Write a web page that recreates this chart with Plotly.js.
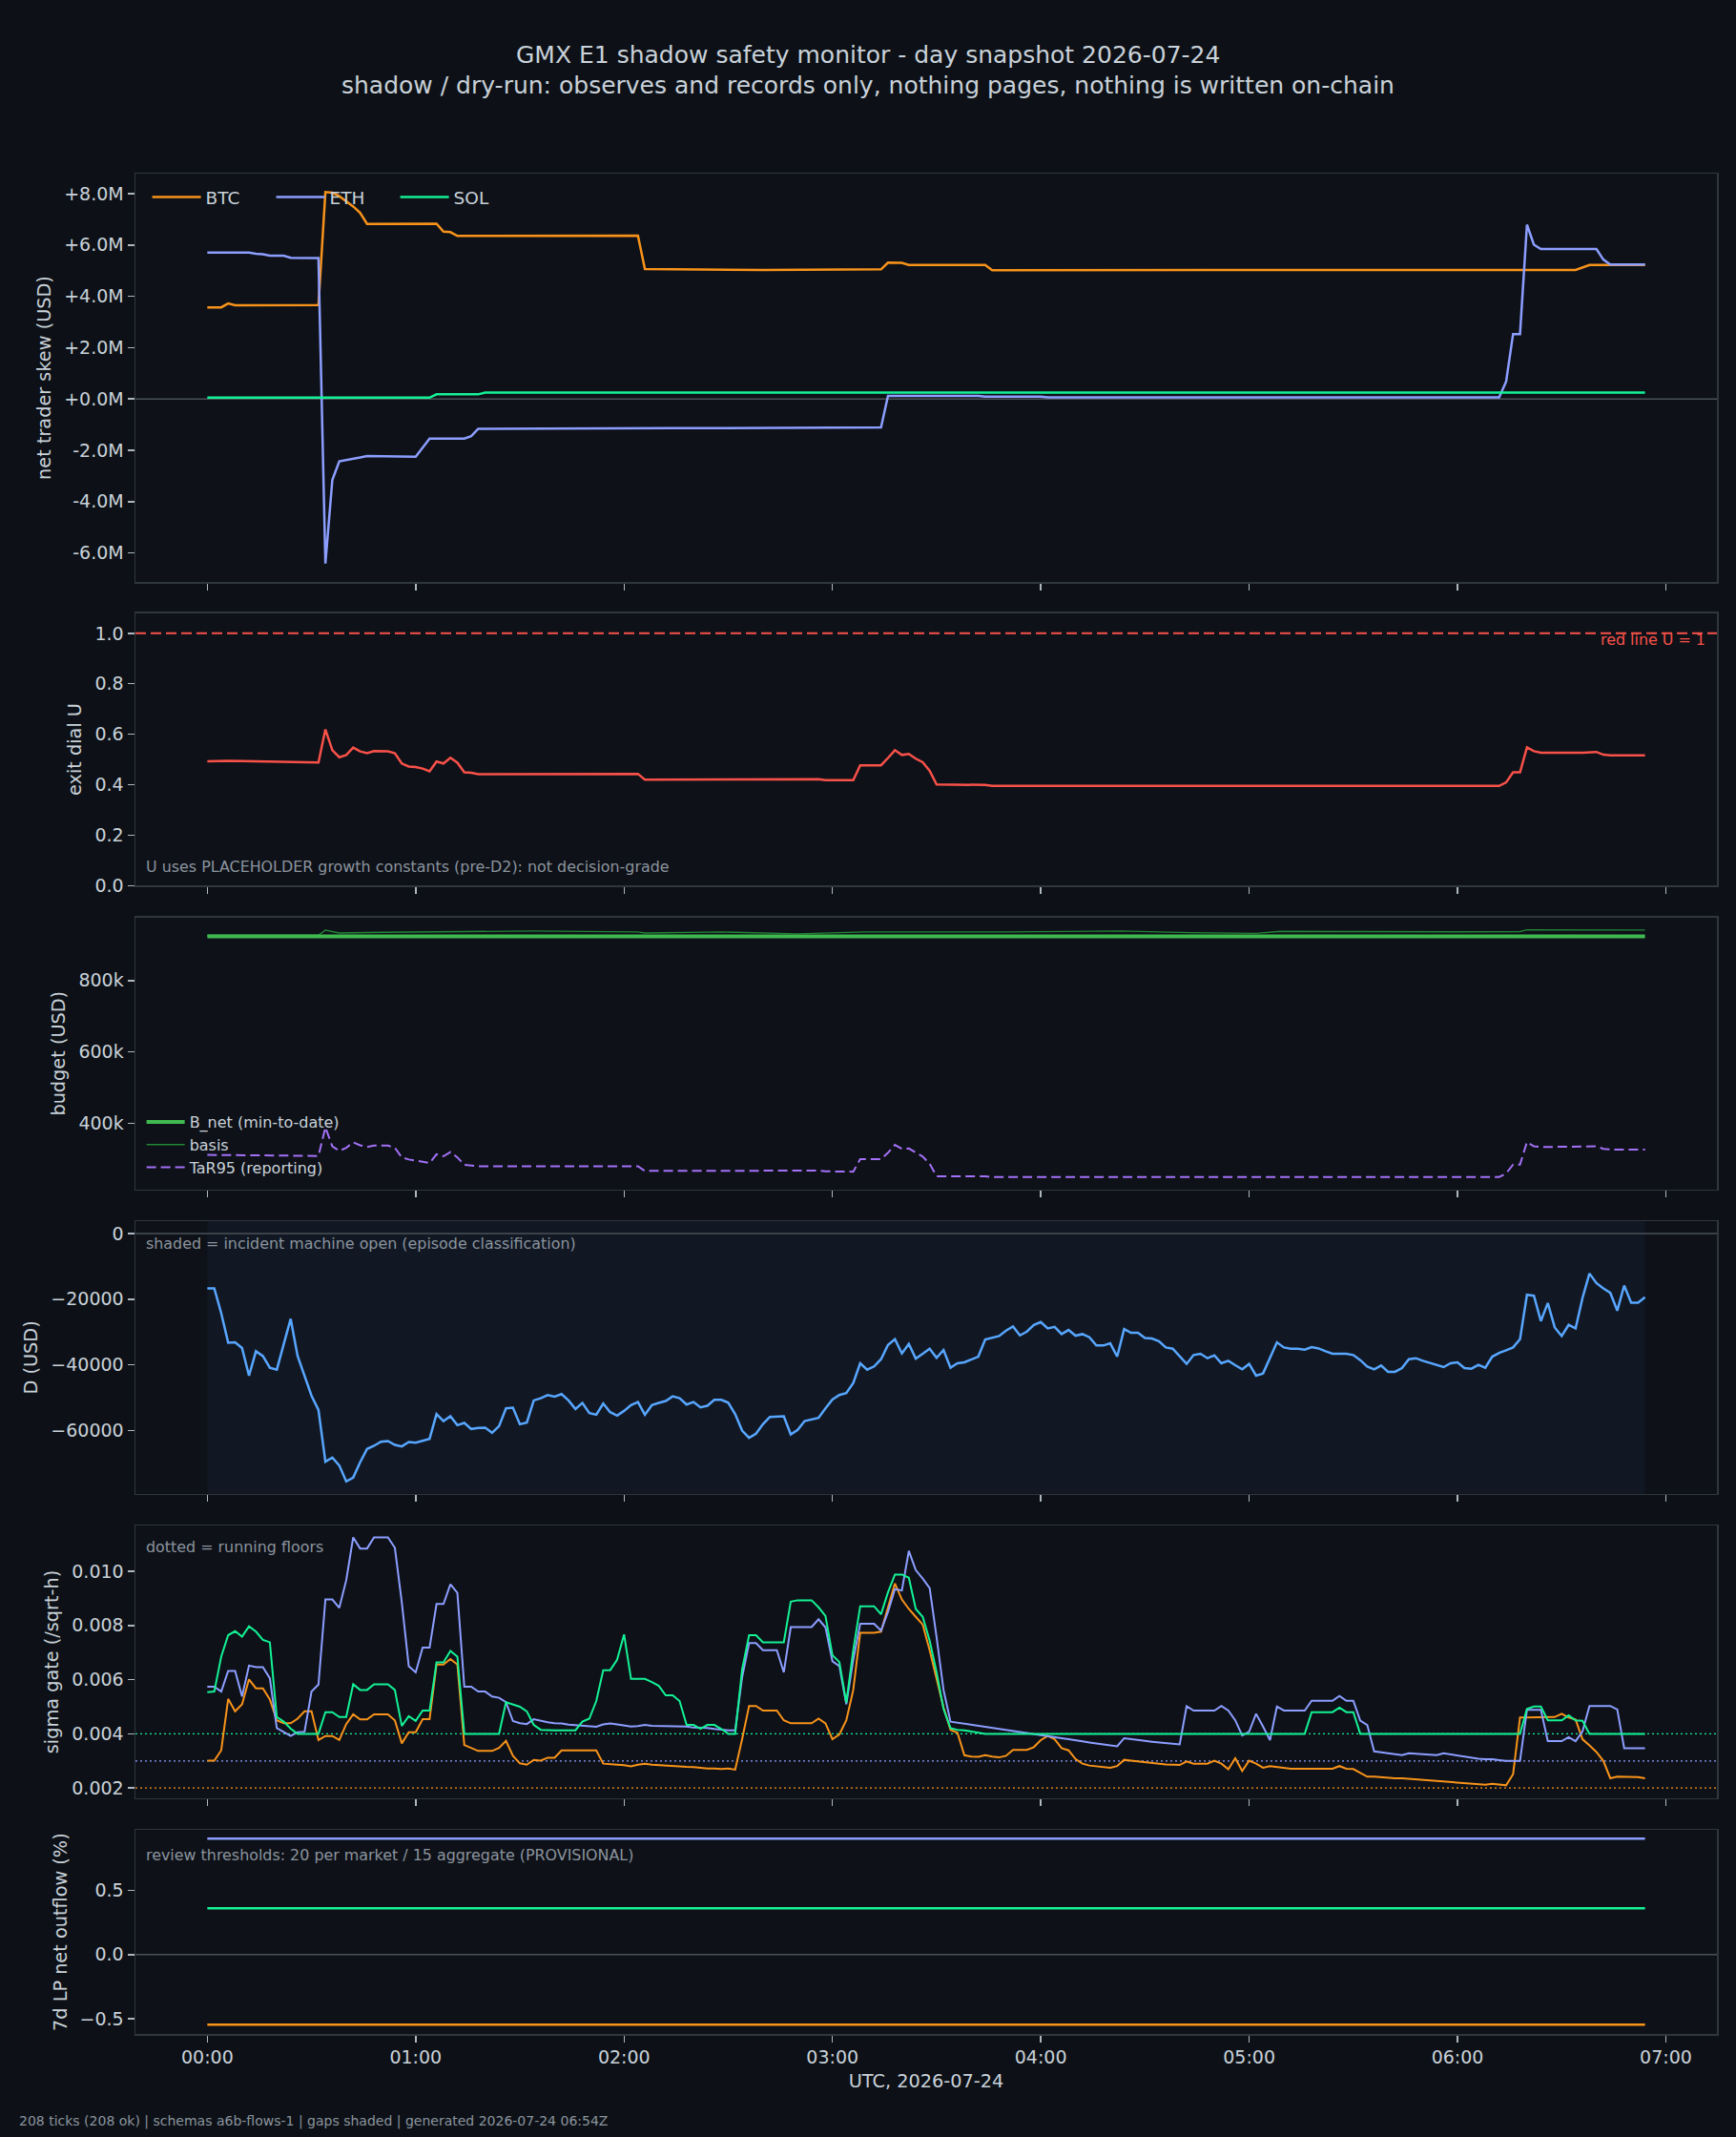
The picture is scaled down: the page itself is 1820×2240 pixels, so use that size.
<!DOCTYPE html>
<html><head><meta charset="utf-8">
<script src="https://cdn.plot.ly/plotly-3.0.1.min.js"></script>
<style>html,body{margin:0;padding:0;background:#0d1117;}#chart{width:1820px;height:2240px;}</style>
</head><body><div id="chart"></div>
<script>
// ---------- data ----------
// panel 1: net trader skew, USD millions, at breakpoints (minutes after 00:00 UTC)
const skewBtcMin = [0, 4, 6, 8, 32, 34, 36, 38, 40, 42, 44, 46, 66, 68, 70, 72, 124, 126, 160, 194, 196, 200, 202, 224, 226, 394, 398, 414];
const skewBtcM   = [3.57, 3.57, 3.72, 3.65, 3.66, 8.06, 8.04, 7.90, 7.70, 7.50, 7.25, 6.82, 6.83, 6.52, 6.50, 6.35, 6.36, 5.06, 5.03, 5.05, 5.31, 5.30, 5.22, 5.22, 5.02, 5.03, 5.22, 5.22];
const skewEthMin = [0, 12, 14, 16, 18, 22, 24, 32, 34, 36, 38, 40, 42, 44, 46, 60, 64, 74, 76, 78, 134, 178, 194, 196, 222, 224, 240, 242, 372, 374, 376, 378, 380, 382, 384, 400, 402, 404, 414];
const skewEthM   = [5.70, 5.70, 5.66, 5.64, 5.58, 5.58, 5.50, 5.49, -6.41, -3.15, -2.43, -2.38, -2.35, -2.28, -2.22, -2.25, -1.54, -1.54, -1.45, -1.16, -1.14, -1.11, -1.11, 0.12, 0.12, 0.09, 0.09, 0.06, 0.06, 0.68, 2.53, 2.53, 6.79, 6.01, 5.84, 5.84, 5.43, 5.24, 5.24];
const skewSolMin = [0, 64, 66, 78, 80, 414];
const skewSolM   = [0.05, 0.05, 0.18, 0.18, 0.25, 0.25];
const skewTickVals = [-6e6, -4e6, -2e6, 0, 2e6, 4e6, 6e6, 8e6];
const skewTickText = ['-6.0M', '-4.0M', '-2.0M', '+0.0M', '+2.0M', '+4.0M', '+6.0M', '+8.0M'];

// panel 2: exit dial U
const uMin = [0, 6, 32, 34, 36, 38, 40, 42, 44, 46, 48, 52, 54, 56, 58, 60, 62, 64, 66, 68, 70, 72, 74, 76, 78, 124, 126, 176, 178, 186, 188, 194, 196, 198, 200, 202, 204, 206, 208, 210, 224, 226, 372, 374, 376, 378, 380, 382, 384, 396, 400, 402, 404, 414];
const uVal = [0.493, 0.495, 0.488, 0.619, 0.537, 0.509, 0.518, 0.547, 0.532, 0.525, 0.533, 0.532, 0.525, 0.484, 0.472, 0.470, 0.464, 0.453, 0.492, 0.484, 0.507, 0.487, 0.449, 0.447, 0.442, 0.443, 0.420, 0.422, 0.418, 0.418, 0.477, 0.477, 0.506, 0.537, 0.518, 0.522, 0.503, 0.489, 0.455, 0.401, 0.399, 0.395, 0.395, 0.409, 0.449, 0.449, 0.548, 0.533, 0.527, 0.527, 0.530, 0.519, 0.516, 0.516];
const uRedLine = 1;

// panel 3: budget, USD thousands
const bnetMin = [0, 414];
const bnetK   = [924, 924];
const basisMin = [0, 32, 34, 38, 50, 94, 124, 126, 148, 170, 189, 230, 263, 283, 302, 309, 360, 378, 380, 397, 414];
const basisK   = [927, 927, 941, 933, 935, 938.7, 936, 933, 936, 930.7, 936, 936, 938.7, 934, 932, 937.8, 936.5, 937, 942, 941, 941.5];
const tarMin = [0, 32, 34, 36, 38, 40, 42, 44, 46, 48, 52, 54, 56, 58, 60, 64, 66, 68, 70, 72, 74, 78, 124, 126, 176, 178, 186, 188, 194, 196, 198, 200, 202, 204, 206, 208, 210, 224, 226, 372, 374, 376, 378, 380, 382, 384, 396, 400, 402, 404, 414];
const tarK   = [312, 309, 389, 336, 323, 332, 347, 339, 334, 338, 338, 332, 305, 299, 296, 289, 314, 308, 320, 305, 284, 280, 280, 267, 268, 266, 265, 300, 300, 318, 340, 329, 330, 318, 307, 287, 252, 252, 250, 250, 260, 285, 285, 348, 336, 334, 334, 336, 329, 327, 327];

// panels 4-5: one value per 2-minute tick (208 ticks, 00:00 .. 06:54)
const dUsd = [
 -16715,-16715,-24250,-33240,-33140,-34880,-43290,-35850,-37300,-40870,
 -41450,-33910,-25990,-37300,-43570,-49370,-53720,-69470,-68210,-70630,
 -75460,-74300,-69660,-65600,-64640,-63380,-63190,-64350,-64830,-63480,
 -63670,-63090,-62510,-54980,-57100,-55650,-58360,-57680,-59520,-59230,
 -59130,-60680,-58650,-53240,-53040,-58070,-57580,-50820,-50140,-49180,
 -49660,-48890,-50820,-53430,-51590,-54690,-55170,-51790,-54400,-55460,
 -54010,-52270,-51300,-55170,-52270,-51590,-51010,-49570,-50140,-52080,
 -51300,-52950,-52460,-50630,-50630,-51500,-54980,-60000,-62220,-60970,
 -58070,-55850,-55850,-55650,-61160,-59810,-57100,-56620,-56140,-53240,
 -50530,-49180,-48600,-45510,-39520,-41450,
 -40480,-38260,-33910,-32170,-36520,-33620,-38070,-36620,-35070,-37870,
 -35460,-40870,-39520,-39230,-38260,-37490,-32270,-31790,-31210,-29560,
 -28310,-31010,-29850,-27820,-26960,-28890,-28410,-30630,-29370,-31110,
 -30630,-31590,-34100,-34100,-33430,-37490,-29080,-30240,-30240,-31790,
 -31980,-32750,-34690,-35070,-37300,-39710,-37000,-36620,-37970,-37100,
 -39520,-38740,-40100,-41350,-39710,-43290,-42600,-37780,-33140,-34690,
 -35070,-35070,-35360,-34590,-34980,-35850,-36620,-36620,-36620,-37000,
 -38550,-40480,-41350,-40190,-42120,-42120,-40970,-38260,-37970,-38740,
 -39420,-40000,-40680,-39520,-39230,-40970,-41160,-40000,-40870,-37490,
 -36330,-35560,-34690,-32170,-18650,-18940,-26670,-21160,-28600,-31210,
 -27820,-28890,-19610,-12170,-15070,-16720,-18070,-23480,-15840,-21060,
 -21060,-19420];

const sigmaBtc = [
 0.00301,0.00301,0.00339,0.00529,0.00483,0.00509,0.00601,0.00568,0.00568,0.00527,
 0.00450,0.00439,0.00439,0.00456,0.00483,0.00483,0.00377,0.00392,0.00392,0.00377,
 0.00436,0.00472,0.00453,0.00453,0.00472,0.00472,0.00472,0.00450,0.00365,0.00406,
 0.00406,0.00454,0.00454,0.00656,0.00656,0.00676,0.00656,0.00359,0.00348,0.00337,
 0.00337,0.00337,0.00348,0.00374,0.00319,0.00291,0.00286,0.00304,0.00301,0.00312,
 0.00312,0.00339,0.00339,0.00339,0.00339,0.00339,0.00339,0.00290,0.00289,0.00286,
 0.00284,0.00280,0.00286,0.00290,0.00286,0.00284,0.00283,0.00280,0.00279,0.00278,
 0.00277,0.00274,0.00272,0.00272,0.00270,0.00272,0.00268,0.00380,0.00503,0.00503,
 0.00486,0.00486,0.00486,0.00450,0.00439,0.00439,0.00439,0.00439,0.00456,0.00439,
 0.00380,0.00398,0.00450,0.00562,0.00773,0.00773,
 0.00773,0.00777,0.00867,0.00955,0.00896,0.00861,0.00832,0.00803,0.00709,0.00603,
 0.00497,0.00415,0.00404,0.00321,0.00316,0.00315,0.00321,0.00316,0.00313,0.00319,
 0.00341,0.00341,0.00341,0.00351,0.00377,0.00392,0.00380,0.00347,0.00339,0.00307,
 0.00290,0.00283,0.00281,0.00279,0.00275,0.00281,0.00304,0.00301,0.00298,0.00296,
 0.00292,0.00290,0.00287,0.00286,0.00285,0.00298,0.00290,0.00290,0.00290,0.00301,
 0.00290,0.00269,0.00310,0.00263,0.00301,0.00290,0.00275,0.00281,0.00278,0.00273,
 0.00271,0.00271,0.00271,0.00271,0.00271,0.00271,0.00271,0.00281,0.00271,0.00270,
 0.00257,0.00242,0.00242,0.00240,0.00237,0.00236,0.00236,0.00234,0.00231,0.00229,
 0.00227,0.00224,0.00223,0.00221,0.00218,0.00217,0.00216,0.00213,0.00212,0.00216,
 0.00213,0.00210,0.00251,0.00460,0.00460,0.00460,0.00460,0.00460,0.00462,0.00474,
 0.00460,0.00453,0.00380,0.00357,0.00333,0.00300,0.00236,0.00242,0.00242,0.00242,
 0.00240,0.00236];
const sigmaEth = [
 0.00574,0.00574,0.00556,0.00632,0.00632,0.00538,0.00652,0.00646,0.00646,0.00605,
 0.00421,0.00406,0.00392,0.00406,0.00408,0.00556,0.00582,0.00896,0.00896,0.00865,
 0.00967,0.01125,0.01084,0.01084,0.01125,0.01125,0.01125,0.01087,0.00885,0.00650,
 0.00627,0.00718,0.00718,0.00879,0.00879,0.00952,0.00920,0.00574,0.00574,0.00556,
 0.00556,0.00538,0.00533,0.00517,0.00447,0.00439,0.00436,0.00454,0.00448,0.00443,
 0.00439,0.00438,0.00434,0.00432,0.00430,0.00428,0.00426,0.00435,0.00438,0.00435,
 0.00432,0.00427,0.00429,0.00433,0.00430,0.00429,0.00429,0.00427,0.00428,0.00427,
 0.00423,0.00422,0.00422,0.00418,0.00415,0.00413,0.00413,0.00609,0.00735,0.00735,
 0.00709,0.00709,0.00709,0.00627,0.00794,0.00794,0.00794,0.00794,0.00823,0.00793,
 0.00668,0.00650,0.00509,0.00673,0.00806,0.00806,
 0.00806,0.00781,0.00850,0.00934,0.00929,0.01075,0.01004,0.00973,0.00938,0.00756,
 0.00562,0.00445,0.00441,0.00438,0.00434,0.00429,0.00426,0.00422,0.00418,0.00414,
 0.00411,0.00406,0.00402,0.00399,0.00395,0.00392,0.00387,0.00384,0.00380,0.00375,
 0.00372,0.00368,0.00365,0.00360,0.00357,0.00354,0.00384,0.00380,0.00377,0.00374,
 0.00371,0.00368,0.00366,0.00364,0.00361,0.00502,0.00486,0.00486,0.00486,0.00486,
 0.00503,0.00486,0.00450,0.00394,0.00408,0.00474,0.00427,0.00377,0.00501,0.00486,
 0.00486,0.00486,0.00486,0.00522,0.00522,0.00522,0.00522,0.00540,0.00522,0.00522,
 0.00449,0.00433,0.00335,0.00332,0.00328,0.00325,0.00321,0.00328,0.00326,0.00326,
 0.00324,0.00321,0.00328,0.00324,0.00319,0.00315,0.00312,0.00308,0.00306,0.00306,
 0.00303,0.00300,0.00300,0.00300,0.00489,0.00489,0.00489,0.00373,0.00373,0.00373,
 0.00388,0.00373,0.00409,0.00503,0.00503,0.00503,0.00503,0.00490,0.00347,0.00347,
 0.00347,0.00347];
const sigmaSol = [
 0.00554,0.00556,0.00685,0.00764,0.00779,0.00759,0.00797,0.00777,0.00747,0.00738,
 0.00462,0.00445,0.00419,0.00400,0.00400,0.00400,0.00400,0.00480,0.00480,0.00462,
 0.00462,0.00583,0.00562,0.00562,0.00583,0.00583,0.00583,0.00562,0.00429,0.00465,
 0.00448,0.00486,0.00486,0.00664,0.00664,0.00706,0.00685,0.00400,0.00400,0.00400,
 0.00400,0.00400,0.00400,0.00517,0.00509,0.00500,0.00483,0.00433,0.00415,0.00413,
 0.00413,0.00413,0.00413,0.00413,0.00445,0.00456,0.00521,0.00635,0.00635,0.00673,
 0.00767,0.00603,0.00603,0.00603,0.00591,0.00577,0.00542,0.00542,0.00521,0.00433,
 0.00433,0.00419,0.00433,0.00433,0.00418,0.00400,0.00400,0.00638,0.00764,0.00764,
 0.00738,0.00738,0.00738,0.00738,0.00888,0.00893,0.00893,0.00893,0.00867,0.00835,
 0.00690,0.00665,0.00515,0.00709,0.00871,0.00871,
 0.00871,0.00841,0.00922,0.00988,0.00988,0.00976,0.00861,0.00832,0.00744,0.00627,
 0.00492,0.00421,0.00415,0.00413,0.00409,0.00404,0.00400,0.00400,0.00400,0.00400,
 0.00400,0.00400,0.00400,0.00400,0.00400,0.00400,0.00400,0.00400,0.00400,0.00400,
 0.00400,0.00400,0.00400,0.00400,0.00400,0.00400,0.00400,0.00400,0.00400,0.00400,
 0.00400,0.00400,0.00400,0.00400,0.00400,0.00400,0.00400,0.00400,0.00400,0.00400,
 0.00400,0.00400,0.00400,0.00400,0.00400,0.00400,0.00400,0.00400,0.00400,0.00400,
 0.00400,0.00400,0.00400,0.00480,0.00480,0.00480,0.00480,0.00497,0.00480,0.00480,
 0.00400,0.00400,0.00400,0.00400,0.00400,0.00400,0.00400,0.00400,0.00400,0.00400,
 0.00400,0.00400,0.00400,0.00400,0.00400,0.00400,0.00400,0.00400,0.00400,0.00400,
 0.00400,0.00400,0.00400,0.00400,0.00492,0.00501,0.00501,0.00450,0.00450,0.00450,
 0.00468,0.00450,0.00448,0.00400,0.00400,0.00400,0.00400,0.00400,0.00400,0.00400,
 0.00400,0.00400];
const floorBtc = 0.002, floorEth = 0.003, floorSol = 0.004;

// panel 6: 7d LP net outflow (%)
const lpMin = [0, 414];
const lpBtc = [-0.545, -0.545];
const lpEth = [0.903, 0.903];
const lpSol = [0.361, 0.361];

const tickCadenceMin = 2;      // one tick every 2 minutes
const incidentOpen = [0, 414]; // minutes, shaded span
const windowMin = [-20.7, 434.7];

// ---------- helpers ----------
function ts(m){ return new Date(Date.UTC(2026,6,24,0,0,0) + m*60000).toISOString().replace('T',' ').replace('Z',''); }
const tickTimes = dUsd.map((_, i) => ts(i*tickCadenceMin));
const X = a => a.map(ts);

const FONT = 'DejaVu Sans, Liberation Sans, sans-serif';
const FG = '#c9d1d9', MUTED = '#8b949e', FRAME = '#30363d', ZERO = '#4a5059';
const C_BTC = '#f7931a', C_ETH = '#8c9eff', C_SOL = '#14f195';
const C_RED = '#f85149', C_D = '#58a6ff', C_BNET = '#3fb950', C_BASIS = '#238636', C_TAR = '#a371f7';
const TICK = 19, LABEL = 19.3, NOTE = 15.9;

// plot area: x 142..1800, y 182..2132 (px)
const dom = {
  1: [0.78051, 1.0], 2: [0.61728, 0.76374], 3: [0.45400, 0.60015],
  4: [0.29041, 0.43692], 5: [0.12667, 0.27333], 6: [0.0, 0.10959]
};

function xa(n, labels){
  return {type:'date', range:[ts(windowMin[0]), ts(windowMin[1])], domain:[0,1], anchor:'y'+(n===1?'':n),
    showgrid:false, zeroline:false, showline:true, mirror:true, linecolor:FRAME, linewidth:1.5,
    ticks:'outside', ticklen:7, tickwidth:1.5, tickcolor:'#aeb6bf', dtick:3600000, tick0:ts(0), tickformat:'%H:%M',
    showticklabels:labels, tickfont:{family:FONT, size:TICK, color:FG}};
}
function ya(n, range, title, extra){
  return Object.assign({domain:dom[n], range:range, anchor:'x'+(n===1?'':n), showgrid:false, zeroline:false,
    showline:true, mirror:true, linecolor:FRAME, linewidth:1.5, ticks:'outside', ticklen:7, tickwidth:1.5, tickcolor:'#aeb6bf',
    tickfont:{family:FONT, size:TICK, color:FG},
    title:{text:title, font:{family:FONT, size:LABEL, color:FG}, standoff:8}}, extra||{});
}

const traces = [
  {x:X(skewBtcMin), y:skewBtcM.map(v=>v*1e6), xaxis:'x', yaxis:'y', mode:'lines', name:'BTC', line:{color:C_BTC, width:2.5}, legend:'legend'},
  {x:X(skewEthMin), y:skewEthM.map(v=>v*1e6), xaxis:'x', yaxis:'y', mode:'lines', name:'ETH', line:{color:C_ETH, width:2.5}, legend:'legend'},
  {x:X(skewSolMin), y:skewSolM.map(v=>v*1e6), xaxis:'x', yaxis:'y', mode:'lines', name:'SOL', line:{color:C_SOL, width:2.5}, legend:'legend'},

  {x:X(uMin), y:uVal, xaxis:'x2', yaxis:'y2', mode:'lines', name:'U', line:{color:C_RED, width:2.5}, showlegend:false},

  {x:X(basisMin), y:basisK.map(v=>v*1e3), xaxis:'x3', yaxis:'y3', mode:'lines', name:'basis', line:{color:C_BASIS, width:1.4}, legend:'legend2', legendrank:2},
  {x:X(bnetMin), y:bnetK.map(v=>v*1e3), xaxis:'x3', yaxis:'y3', mode:'lines', name:'B_net (min-to-date)', line:{color:C_BNET, width:4}, legend:'legend2', legendrank:1},
  {x:X(tarMin), y:tarK.map(v=>v*1e3), xaxis:'x3', yaxis:'y3', mode:'lines', name:'TaR95 (reporting)', line:{color:C_TAR, width:2, dash:'10px,5px'}, legend:'legend2', legendrank:3},

  {x:tickTimes, y:dUsd, xaxis:'x4', yaxis:'y4', mode:'lines', name:'D', line:{color:C_D, width:2.5}, showlegend:false},

  {x:tickTimes, y:sigmaBtc, xaxis:'x5', yaxis:'y5', mode:'lines', name:'BTC', line:{color:C_BTC, width:2}, showlegend:false},
  {x:tickTimes, y:sigmaEth, xaxis:'x5', yaxis:'y5', mode:'lines', name:'ETH', line:{color:C_ETH, width:2}, showlegend:false},
  {x:tickTimes, y:sigmaSol, xaxis:'x5', yaxis:'y5', mode:'lines', name:'SOL', line:{color:C_SOL, width:2}, showlegend:false},

  {x:X(lpMin), y:lpBtc, xaxis:'x6', yaxis:'y6', mode:'lines', name:'BTC', line:{color:C_BTC, width:2.5}, showlegend:false},
  {x:X(lpMin), y:lpSol, xaxis:'x6', yaxis:'y6', mode:'lines', name:'SOL', line:{color:C_SOL, width:2.5}, showlegend:false},
  {x:X(lpMin), y:lpEth, xaxis:'x6', yaxis:'y6', mode:'lines', name:'ETH', line:{color:C_ETH, width:2.5}, showlegend:false}
];

function hline(n, y, color, width, dash){
  return {type:'line', xref:'x'+(n===1?'':n)+' domain', x0:0, x1:1, yref:'y'+(n===1?'':n), y0:y, y1:y,
    line:{color:color, width:width, dash:dash||'solid'}, layer:'below'};
}
const shapes = [
  {type:'rect', xref:'x4', x0:ts(incidentOpen[0]), x1:ts(incidentOpen[1]), yref:'y4 domain', y0:0, y1:1,
   fillcolor:'rgba(88,166,255,0.05)', line:{width:0}, layer:'below'},
  hline(1, 0, ZERO, 1.5),
  hline(2, uRedLine, C_RED, 2, '11px,5px'),
  hline(4, 0, ZERO, 1.5),
  hline(5, floorSol, C_SOL, 1.2, '2px,3px'),
  hline(5, floorEth, C_ETH, 1.2, '2px,3px'),
  hline(5, floorBtc, C_BTC, 1.2, '2px,3px'),
  hline(6, 0, ZERO, 1.5)
];

function note(n, x, y, text, opts){
  return Object.assign({xref:'x'+(n===1?'':n)+' domain', yref:'y'+(n===1?'':n)+' domain', x:x, y:y, xanchor:'left', yanchor:'middle',
    text:text, showarrow:false, font:{family:FONT, size:NOTE, color:MUTED}}, opts||{});
}
const annotations = [
  {xref:'paper', yref:'paper', x:0.46321, y:1.06410, xanchor:'center', yanchor:'middle', showarrow:false,
   text:'GMX E1 shadow safety monitor - day snapshot 2026-07-24', font:{family:FONT, size:25, color:FG}},
  {xref:'paper', yref:'paper', x:0.46321, y:1.04769, xanchor:'center', yanchor:'middle', showarrow:false,
   text:'shadow / dry-run: observes and records only, nothing pages, nothing is written on-chain', font:{family:FONT, size:25, color:FG}},
  note(2, 0.0054, 0.0676, 'U uses PLACEHOLDER growth constants (pre-D2): not decision-grade'),
  note(2, 0.994, 0.9044, 'red line U = 1', {xanchor:'right', font:{family:FONT, size:NOTE, color:C_RED}}),
  note(4, 0.0054, 0.9195, 'shaded = incident machine open (episode classification)'),
  note(5, 0.0054, 0.9196, 'dotted = running floors'),
  note(6, 0.0054, 0.8796, 'review thresholds: 20 per market / 15 aggregate (PROVISIONAL)'),
  {xref:'paper', yref:'paper', x:-0.07479, y:-0.04667, xanchor:'left', yanchor:'middle', showarrow:false,
   text:'208 ticks (208 ok) | schemas a6b-flows-1 | gaps shaded | generated 2026-07-24 06:54Z', font:{family:FONT, size:14, color:MUTED}}
];

const x6 = xa(6, true);
x6.title = {text:'UTC, 2026-07-24', font:{family:FONT, size:LABEL, color:FG}, standoff:8};

const layout = {
  width:1820, height:2240,
  margin:{l:142, r:20, t:182, b:108, pad:0},
  paper_bgcolor:'#0d1117', plot_bgcolor:'#0e1118',
  font:{family:FONT, color:FG},
  showlegend:true,
  xaxis:xa(1,false), xaxis2:xa(2,false), xaxis3:xa(3,false), xaxis4:xa(4,false), xaxis5:xa(5,false), xaxis6:x6,
  yaxis: ya(1, [-7.13e6, 8.78e6], 'net trader skew (USD)', {tickmode:'array', tickvals:skewTickVals, ticktext:skewTickText}),
  yaxis2: ya(2, [0, 1.08], 'exit dial U', {dtick:0.2, tick0:0, tickformat:'.1f'}),
  yaxis3: ya(3, [215400, 976600], 'budget (USD)', {dtick:200000, tick0:0, tickformat:'~s'}),
  yaxis4: ya(4, [-79230, 3773], 'D (USD)', {dtick:20000, tick0:0, tickformat:'d'}),
  yaxis5: ya(5, [0.00162, 0.01169], 'sigma gate (/sqrt-h)', {dtick:0.002, tick0:0, tickformat:'.3f'}),
  yaxis6: ya(6, [-0.618, 0.97], '7d LP net outflow (%)', {dtick:0.5, tick0:0, tickformat:'.1f'}),
  legend:{x:0.0076, xanchor:'left', y:0.98718, yanchor:'middle', orientation:'h', bgcolor:'rgba(0,0,0,0)',
    font:{family:FONT, size:18.5, color:FG}, itemwidth:51, entrywidth:64, entrywidthmode:'pixels'},
  legend2:{x:0.004, xanchor:'left', y:0.47795, yanchor:'middle', orientation:'v', bgcolor:'rgba(0,0,0,0)',
    font:{family:FONT, size:16, color:FG}, tracegroupgap:0, itemwidth:40},
  shapes:shapes,
  annotations:annotations
};

Plotly.newPlot('chart', traces, layout, {staticPlot:true, displayModeBar:false});
</script></body></html>
